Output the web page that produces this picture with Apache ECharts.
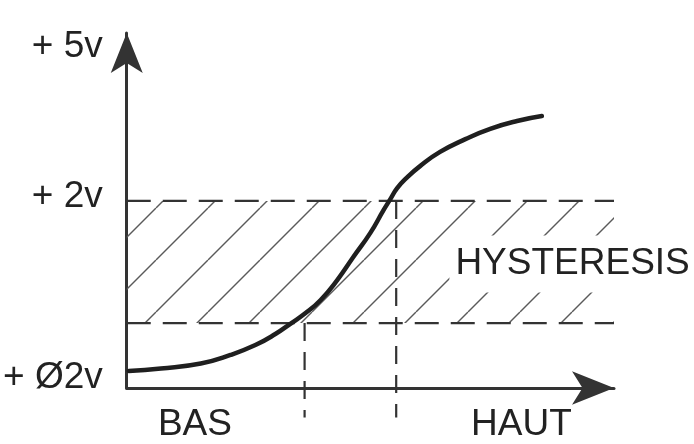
<!DOCTYPE html>
<html>
<head>
<meta charset="utf-8">
<script src="https://cdn.jsdelivr.net/npm/echarts@6/dist/echarts.min.js"></script>
<style>
  html, body { margin: 0; padding: 0; background: #fff; }
  #chart { width: 694px; height: 444px; }
</style>
</head>
<body>
<div id="chart"></div>
<script>
// transfer curve (schematic units 0..100)
const curveX = [0.4, 7.0, 15.2, 21.3, 26.4, 30.5, 33.8, 36.7, 39.8, 43.2, 46.5, 50.0, 52.7, 54.1, 55.5, 57.6, 60.2, 64.3, 69.5, 74.6, 80.1, 85.2];
const curveY = [4.8, 5.5, 6.9, 9.3, 12.1, 15.2, 18.3, 21.1, 24.8, 30.4, 36.9, 43.7, 50.1, 53.2, 56.3, 59.4, 62.5, 66.5, 70.1, 73.0, 75.2, 76.6];

// hysteresis band
const levelLow = 18.3;
const levelHigh = 52.7;
const bandStart = 0;
const bandEnd = 100;

// switching points (vertical dashed marks)
const switchX = [36.5, 55.3];
const switchTop = [levelLow, levelHigh];
const switchBottom = -8.3;

// tick labels
const yTickValues = [2.8, 54, 96];
const yTickLabels = ['+ Ø2v', '+ 2v', '+ 5v'];
const xTickValues = [14, 81];
const xTickLabels = ['BAS', 'HAUT'];

const bandLabel = 'HYSTERESIS';
const bandLabelPos = [91.5, 34.9];

// diagonal hatch tile
function hatchTile() {
  const s = 52;
  const c = document.createElement('canvas');
  c.width = s; c.height = s;
  const ctx = c.getContext('2d');
  ctx.strokeStyle = '#5a5a5a';
  ctx.lineWidth = 1.4;
  for (let k = -s; k <= s; k += s) {
    ctx.beginPath();
    ctx.moveTo(k, s);
    ctx.lineTo(k + s, 0);
    ctx.stroke();
  }
  return c;
}

const ink = '#222';
const font = 'Liberation Sans';

const chart = echarts.init(document.getElementById('chart'));

const dashed = (data, dash, clip) => ({
  type: 'line',
  data: data,
  showSymbol: false,
  symbol: 'none',
  silent: true,
  clip: clip,
  z: 3,
  lineStyle: { color: '#333', width: 2.2, type: dash }
});

const series = [];

// band borders + hatch
const low = dashed([[bandStart, levelLow], [bandEnd, levelLow]], [24, 12], true);
low.markArea = {
  silent: true,
  itemStyle: { color: { image: hatchTile(), repeat: 'repeat' } },
  data: [[{ xAxis: bandStart, yAxis: levelLow }, { xAxis: bandEnd, yAxis: levelHigh }]]
};
low.z = 2;
series.push(low);
series.push(dashed([[bandStart, levelHigh], [bandEnd, levelHigh]], [24, 12], true));

switchX.forEach((x, i) => {
  series.push(dashed([[x, switchTop[i]], [x, switchBottom]], [18, 11], false));
});

// the curve
series.push({
  type: 'line',
  data: curveX.map((x, i) => [x, curveY[i]]),
  smooth: 0.5,
  showSymbol: false,
  symbol: 'none',
  silent: true,
  z: 5,
  lineStyle: { color: '#1f1f1f', width: 4.5, cap: 'round', join: 'round' }
});

// band label
series.push({
  type: 'scatter',
  data: [bandLabelPos],
  symbolSize: 0,
  silent: true,
  z: 6,
  itemStyle: { opacity: 1 },
  label: {
    show: true,
    position: 'inside',
    formatter: bandLabel,
    color: ink,
    opacity: 1,
    fontFamily: font,
    fontSize: 37,
    backgroundColor: '#fff',
    padding: [10, 6]
  }
});

chart.setOption({
  backgroundColor: '#fff',
  animation: false,
  grid: { left: 126, right: 80, top: 33, bottom: 56 },
  xAxis: {
    type: 'value',
    min: 0,
    max: 100,
    splitLine: { show: false },
    axisTick: { show: false },
    axisLine: {
      show: true,
      symbol: ['none', 'arrow'],
      symbolSize: [25, 42],
      lineStyle: { color: '#333', width: 3 }
    },
    axisLabel: {
      customValues: xTickValues,
      formatter: v => xTickLabels[xTickValues.indexOf(v)] || '',
      margin: 18,
      color: ink,
      fontFamily: font,
      fontSize: 37
    }
  },
  yAxis: {
    type: 'value',
    min: 0,
    max: 100,
    splitLine: { show: false },
    axisTick: { show: false },
    axisLine: {
      show: true,
      symbol: ['none', 'arrow'],
      symbolSize: [24, 40],
      lineStyle: { color: '#333', width: 3 }
    },
    axisLabel: {
      customValues: yTickValues,
      formatter: v => yTickLabels[yTickValues.indexOf(v)] || '',
      margin: 24,
      color: ink,
      fontFamily: font,
      fontSize: 37
    }
  },
  series: series
});
</script>
</body>
</html>
